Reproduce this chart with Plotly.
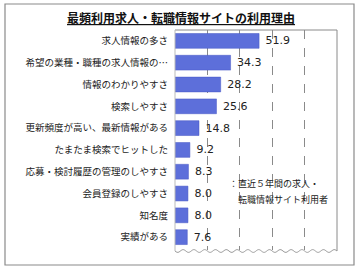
import numpy as np
import plotly.graph_objects as go

categories = [
    "求人情報の多さ",
    "希望の業種・職種の求人情報の…",
    "情報のわかりやすさ",
    "検索しやすさ",
    "更新頻度が高い、最新情報がある",
    "たまたま検索でヒットした",
    "応募・検討履歴の管理のしやすさ",
    "会員登録のしやすさ",
    "知名度",
    "実績がある",
]
values = [51.9, 34.3, 28.2, 25.6, 14.8, 9.2, 8.3, 8.0, 8.0, 7.6]
title_text = "最頻利用求人・転職情報サイトの利用理由"
note_lines = ["：直近５年間の求人・", "転職情報サイト利用者"]

W, H = 360, 270
L, R, T, B = 175, 337, 30, 250


def px2x(px):
    return (px - L) / (R - L)


def py2y(py):
    return (B - py) / (B - T)


fig = go.Figure()
fig.add_trace(go.Bar(
    y=categories, x=values, orientation="h",
    marker=dict(color="#5d6fda", line=dict(color="#4656c4", width=0.5)),
    width=0.68,
    texttemplate="\u00a0%{x:.1f}", textposition="outside", cliponaxis=False,
    textfont=dict(family="DejaVu Sans", size=11, color="#222"),
    hoverinfo="skip",
))

shapes = []
# outer frame
shapes.append(dict(type="rect", xref="paper", yref="paper",
                   x0=px2x(5), x1=px2x(354), y0=py2y(265), y1=py2y(4),
                   line=dict(color="#8a8a8a", width=1.2), layer="below"))
# top and right borders of plot
shapes.append(dict(type="line", xref="paper", yref="paper", x0=0, x1=1, y0=1, y1=1,
                   line=dict(color="#8a8a8a", width=1)))
shapes.append(dict(type="line", xref="paper", yref="paper", x0=1, x1=1, y0=py2y(251), y1=1,
                   line=dict(color="#8a8a8a", width=1)))
shapes.append(dict(type="line", xref="paper", yref="paper", x0=0, x1=0, y0=py2y(251), y1=1,
                   line=dict(color="#bbbbbb", width=1)))
# wavy bottom edge
xs = np.linspace(L, R, 160)
ys = 251 + 1.4 * np.sin((xs - L) / 10.8 * 2 * np.pi)
path = "M " + " L ".join(f"{px2x(a):.5f},{py2y(b):.5f}" for a, b in zip(xs, ys))
shapes.append(dict(type="path", xref="paper", yref="paper", path=path,
                   line=dict(color="#9a9a9a", width=1)))

annotations = [
    dict(xref="paper", yref="paper", x=px2x(227), y=py2y(183), text=note_lines[0],
         showarrow=False, xanchor="left", yanchor="middle",
         font=dict(family="Noto Sans CJK JP", size=9, color="#222")),
    dict(xref="paper", yref="paper", x=px2x(236), y=py2y(199), text=note_lines[1],
         showarrow=False, xanchor="left", yanchor="middle",
         font=dict(family="Noto Sans CJK JP", size=9, color="#222")),
    dict(xref="paper", yref="paper", x=px2x(180.5), y=py2y(17), text="<b><u>" + title_text + "</u></b>",
         showarrow=False, xanchor="center", yanchor="middle",
         font=dict(family="Noto Sans CJK JP", size=12, color="#111")),
]

fig.update_layout(
    width=W, height=H,
    margin=dict(l=L, r=W - R, t=T, b=H - B, pad=0),
    paper_bgcolor="white", plot_bgcolor="white",
    showlegend=False, bargap=0.32,
    shapes=shapes, annotations=annotations,
    font=dict(family="Noto Sans CJK JP"),
)
fig.update_xaxes(range=[0, 100], dtick=20, showticklabels=False, showgrid=True,
                 gridcolor="#8a8a8a", griddash="dash", gridwidth=1, zeroline=False,
                 showline=False, fixedrange=True)
fig.update_yaxes(range=[9.59, -0.5], showgrid=False, zeroline=False, showline=False,
                 ticks="", ticklabelstandoff=6,
                 tickfont=dict(family="Noto Sans CJK JP", size=9.5, color="#222"),
                 fixedrange=True)

fig.write_html("out.html", config=dict(displayModeBar=False))
